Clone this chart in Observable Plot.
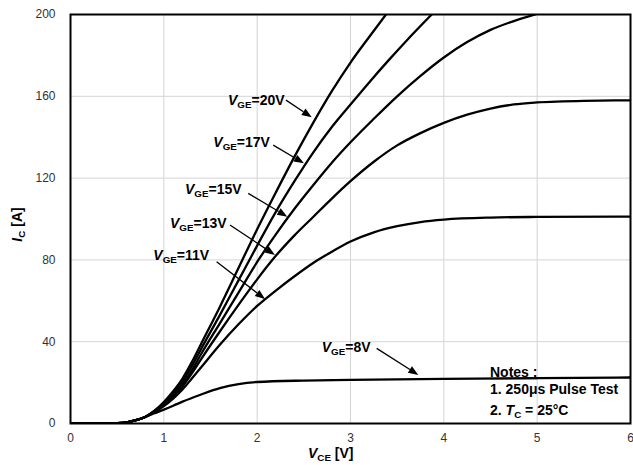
<!DOCTYPE html>
<html><head><meta charset="utf-8">
<script src="https://cdn.jsdelivr.net/npm/d3@7"></script>
<script src="https://cdn.jsdelivr.net/npm/@observablehq/plot@0.6"></script>
<style>
html,body{margin:0;padding:0;background:#fff;}
#chart svg{display:block;}
</style></head><body><div id="chart"></div>
<script>
// ---- axis ticks ----
const xTicks = [0, 1, 2, 3, 4, 5, 6];
const yTicks = [0, 40, 80, 120, 160, 200];

// ---- series: [VCE (V), IC (A)] ----
const start = [[0,0],[0.3,0],[0.5,0.2],[0.6,0.6],[0.7,1.6],[0.8,3.2]];
const vge20 = [[0.9,6.3],[1.0,10.5],[1.1,15.8],[1.2,22],[1.3,30],[1.4,39],[1.6,57],[1.8,76],[2.0,95],[2.2,113],[2.4,130.5],[2.6,147],[2.8,162.5],[3.0,176.5],[3.2,189],[3.38,200]];
const vge17 = [[0.9,6.1],[1.0,10],[1.1,14.8],[1.2,20.5],[1.3,28],[1.4,36.5],[1.6,53],[1.8,70],[2.0,87],[2.2,103.5],[2.4,118.5],[2.6,132.5],[2.8,145],[3.0,156],[3.2,166.8],[3.4,177.2],[3.6,187.2],[3.87,200]];
const vge15 = [[0.9,6],[1.0,9.5],[1.1,13.8],[1.2,19],[1.3,26],[1.4,34],[1.6,49],[1.8,64],[2.0,79],[2.2,92.5],[2.4,105],[2.6,116.5],[2.8,127.5],[3.0,137.5],[3.25,149],[3.5,160],[3.75,170],[4.0,179],[4.25,186.5],[4.5,192.5],[4.75,196.8],[4.98,200]];
const vge13 = [[0.9,5.8],[1.0,9],[1.1,13],[1.2,18],[1.3,24.5],[1.4,31.5],[1.6,45],[1.8,58],[2.0,70.5],[2.2,82],[2.4,92],[2.6,101],[2.8,110],[3.0,118.5],[3.25,128],[3.5,136],[3.75,142],[4.0,147],[4.25,151],[4.5,154],[4.75,156],[5.0,157],[5.5,157.8],[6.0,158]];
const vge11 = [[0.9,5.6],[1.0,8.5],[1.1,12.2],[1.2,16.6],[1.3,22],[1.4,27.5],[1.6,38.5],[1.8,48.5],[2.0,57.5],[2.2,65],[2.4,72],[2.6,78.5],[2.8,84],[3.0,89],[3.25,93.5],[3.5,96.5],[3.75,98.5],[4.0,99.7],[4.5,100.7],[5.0,101],[6.0,101.2]];
const vge8  = [[0.9,5],[1.0,6.8],[1.1,8.7],[1.2,10.7],[1.4,14.2],[1.6,17.3],[1.8,19.3],[2.0,20.3],[2.5,21],[3.0,21.3],[4.0,21.8],[5.0,22.2],[6.0,22.5]];

const seriesNames = ["20V", "17V", "15V", "13V", "11V", "8V"];
const seriesData = [vge20, vge17, vge15, vge13, vge11, vge8];

// ---- annotation anchors (data units) ----
const labelX = [1.693, 1.536, 1.232, 1.071, 0.893, 2.697];
const labelY = [155.5, 135.1, 111.8, 95.2, 79.7, 34.9];
const arrowFrom = [[2.314,157.9],[2.178,135.9],[1.91,112.3],[1.714,96.8],[1.571,78.9],[3.286,36.5]];
const arrowTo   = [[2.59,149.5],[2.507,127],[2.328,100.9],[2.196,82.2],[2.089,60.6],[3.732,23.5]];
const notesX = 4.5;
const notesY = [22.6, 14.2, 3.9];

const rows = [];
seriesData.forEach((s, i) => {
  for (const [x, y] of start.concat(s)) rows.push({vge: seriesNames[i], vce: x, ic: y});
});

function richText(g, x, y, parts, size, attrs = {}) {
  const t = g.append("text").attr("x", x).attr("y", y)
    .attr("font-size", size).attr("font-weight", "bold").attr("fill", "black")
    .attr("text-anchor", "start");
  for (const k in attrs) t.attr(k, attrs[k]);
  let off = 0;
  for (const p of parts) {
    const s = t.append("tspan").text(p.t);
    if (p.i) s.attr("font-style", "italic");
    if (p.u) s.attr("text-decoration", "underline");
    if (p.sub) {
      s.attr("font-size", size * 0.7);
      const d = size * 0.22;
      if (off !== d) s.attr("dy", d - off);
      off = d;
    } else if (off) {
      s.attr("dy", -off); off = 0;
    }
  }
  return t;
}

function annotations(index, scales, values, dims) {
  const g = d3.create("svg:g");
  const X = scales.x, Y = scales.y;
  arrowFrom.forEach((f, i) => {
    const x1 = X(f[0]), y1 = Y(f[1]), x2 = X(arrowTo[i][0]), y2 = Y(arrowTo[i][1]);
    const a = Math.atan2(y2 - y1, x2 - x1), L = 10, W = 3.8;
    const bx = x2 - L * Math.cos(a), by = y2 - L * Math.sin(a);
    const px = -Math.sin(a) * W, py = Math.cos(a) * W;
    g.append("line").attr("x1", x1).attr("y1", y1).attr("x2", bx).attr("y2", by)
      .attr("stroke", "black").attr("stroke-width", 1.3);
    g.append("path").attr("d", `M${x2},${y2}L${bx + px},${by + py}L${bx - px},${by - py}Z`).attr("fill", "black");
  });
  seriesNames.forEach((n, i) => {
    richText(g, X(labelX[i]), Y(labelY[i]), [{t: "V", i: true}, {t: "GE", sub: true}, {t: "=" + n}], 14);
  });
  richText(g, X(notesX), Y(notesY[0]), [{t: "Notes :", u: true}], 14);
  richText(g, X(notesX), Y(notesY[1]), [{t: "1. 250μs Pulse Test"}], 14);
  richText(g, X(notesX), Y(notesY[2]), [{t: "2. "}, {t: "T", i: true}, {t: "C", sub: true}, {t: " = 25°C"}], 14);
  // axis titles
  richText(g, 308, dims.height - 7, [{t: "V", i: true}, {t: "CE", sub: true}, {t: " [V]"}], 14);
  richText(g, 0, 0, [{t: "I", i: true}, {t: "C", sub: true}, {t: " [A]"}], 14,
    {"text-anchor": "middle", transform: `translate(22,${(dims.marginTop + dims.height - dims.marginBottom) / 2 + 6}) rotate(-90)`});
  return g.node();
}

const chart = Plot.plot({
  width: 633, height: 465,
  marginLeft: 70, marginRight: 3, marginTop: 14, marginBottom: 42,
  style: {fontFamily: "'Liberation Sans', Arial, sans-serif", fontSize: "12px", color: "#333", background: "#fff", overflow: "visible"},
  x: {domain: [0, 6], ticks: xTicks, tickSize: 0, tickPadding: 10, label: null, tickFormat: d => String(d)},
  y: {domain: [0, 200], ticks: yTicks, tickSize: 0, tickPadding: 15, label: null, tickFormat: d => String(d)},
  marks: [
    Plot.ruleX(xTicks.slice(1, -1), {stroke: "#d4d4d4", strokeWidth: 1}),
    Plot.ruleY(yTicks.slice(1, -1), {stroke: "#d4d4d4", strokeWidth: 1}),
    Plot.line(rows, {x: "vce", y: "ic", z: "vge", stroke: "black", strokeWidth: 2.3, curve: "monotone-x", clip: true}),
    Plot.frame({stroke: "black", strokeWidth: 2}),
    annotations
  ]
});
document.getElementById("chart").appendChild(chart);
</script></body></html>
